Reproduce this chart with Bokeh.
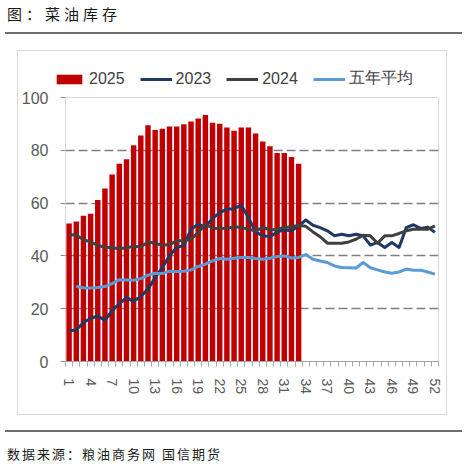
from bokeh.embed import file_html
from bokeh.layouts import column
from bokeh.models import Div, FixedTicker, Legend, LegendItem, Range1d
from bokeh.plotting import figure
from bokeh.resources import INLINE

TITLE = "图：菜油库存"
SOURCE = "数据来源：粮油商务网 国信期货"

WEEKS = list(range(1, 53))
TICK_WEEKS = [1, 4, 7, 10, 13, 16, 19, 22, 25, 28, 31, 34, 37, 40, 43, 46, 49, 52]
Y_TICKS = [0, 20, 40, 60, 80, 100]

STOCK_2025 = [52.3, 53.0, 55.2, 56.0, 61.2, 65.5, 70.8, 74.9, 76.6, 81.9, 85.6,
              89.5, 87.7, 88.2, 89.0, 89.0, 89.9, 90.9, 92.0, 93.4, 90.4, 90.1,
              88.6, 87.4, 88.6, 88.6, 86.4, 83.3, 81.5, 79.0, 79.0, 77.5, 74.9]
STOCK_2023 = [11.6, 11.9, 14.8, 16.3, 17.3, 15.5, 19.4, 21.8, 24.2, 22.8, 24.6,
              27.4, 31.8, 35.6, 40.0, 43.3, 43.9, 50.1, 52.0, 51.0, 54.2, 56.4,
              57.7, 57.9, 59.2, 54.5, 49.1, 47.6, 47.3, 49.1, 49.8, 49.5, 51.4,
              53.6, 51.6, 50.7, 49.5, 47.6, 48.2, 47.6, 48.2, 47.6, 44.1, 45.1,
              43.2, 45.1, 43.2, 50.7, 51.8, 50.4, 50.9, 48.9]
STOCK_2024 = [48.0, 47.9, 46.1, 45.3, 44.0, 43.3, 43.1, 42.7, 43.1, 43.6, 43.5,
              45.3, 44.8, 44.0, 44.3, 45.7, 45.7, 46.3, 48.9, 52.0, 50.5, 50.4,
              50.5, 51.0, 50.8, 50.1, 49.5, 50.8, 49.8, 50.1, 50.8, 51.0, 51.6,
              51.2, 49.1, 47.3, 44.8, 44.8, 44.8, 45.3, 46.3, 47.8, 47.6, 44.8,
              47.6, 47.6, 48.5, 49.5, 50.1, 50.1, 50.1, 51.4]
# five-year average starts at week 2
AVG_5Y = [28.4, 27.9, 27.8, 28.0, 28.4, 29.5, 31.0, 30.9, 30.8, 31.4, 32.7,
          33.4, 33.3, 34.2, 34.1, 34.2, 34.7, 36.0, 36.9, 38.1, 39.0, 38.7,
          39.1, 39.4, 39.4, 39.0, 38.7, 39.1, 39.8, 40.0, 39.2, 39.4, 40.5,
          38.7, 38.1, 37.5, 36.2, 35.6, 35.5, 35.4, 37.5, 35.5, 34.7, 33.9,
          33.4, 33.9, 35.0, 34.6, 34.6, 33.9, 33.1]

SERIES_NAMES = ["2025", "2023", "2024", "五年平均"]
C2025, C2023, C2024, CAVG = "#C00000", "#1F3864", "#404040", "#5B9BD5"

CJK = "font-family:'Noto Sans CJK SC';"
BOX = "#D9D9D9"

title_div = Div(
    width=467, height=41, margin=0,
    text=(
        '<div style="position:relative;width:467px;height:41px;">'
        f'<div style="position:absolute;left:7px;top:4px;{CJK}'
        'font-size:15px;letter-spacing:4px;color:#1a1a1a;line-height:20px;white-space:nowrap;">'
        f'{TITLE}</div>'
        '<div style="position:absolute;left:5px;top:32px;width:457px;'
        'border-top:2px solid #6e6e6e;"></div></div>'
    ),
)


def draw_series(fig):
    bars = fig.vbar(x=WEEKS[:len(STOCK_2025)], top=STOCK_2025, width=0.76,
                    fill_color=C2025, line_color=None)
    r23 = fig.line(WEEKS, STOCK_2023, line_width=3, color=C2023, line_join="round")
    r24 = fig.line(WEEKS, STOCK_2024, line_width=3, color=C2024, line_join="round")
    ravg = fig.line(WEEKS[1:], AVG_5Y, line_width=3, color=CAVG, line_join="round")
    return [bars, r23, r24, ravg]


# --- legend strip: its own small plot whose view range shows no data ---
leg = figure(
    width=429, height=40, x_range=Range1d(-20, -19), y_range=Range1d(-20, -19),
    x_axis_location=None, y_axis_location=None,
    output_backend="svg", toolbar_location=None,
    min_border_left=0, min_border_right=0, min_border_top=0, min_border_bottom=0,
    margin=(9, 0, 0, 18), frame_align=False,
)
leg.outline_line_color = None
leg.grid.visible = False
legend = Legend(
    items=[LegendItem(label=n, renderers=[r]) for n, r in zip(SERIES_NAMES, draw_series(leg))],
    orientation="horizontal",
    location=(35, 1),
    glyph_width=32,
    glyph_height=12,
    label_height=18,
    label_standoff=4,
    spacing=15,
    padding=0,
    margin=0,
    border_line_color=None,
    background_fill_alpha=0,
    label_text_font="Liberation Sans",
    label_text_font_size="16px",
    label_text_color="#404040",
)
leg.add_layout(legend, "center")

# --- main chart ---
p = figure(
    width=429,
    height=324,
    margin=(0, 0, 0, 18),
    x_range=Range1d(0.5, 52.5),
    y_range=Range1d(0, 100),
    output_backend="svg",
    toolbar_location=None,
    min_border_left=47,
    min_border_right=9,
    min_border_top=7,
    min_border_bottom=53,
)
p.outline_line_color = BOX
draw_series(p)

p.xgrid.visible = False
p.ygrid.ticker = FixedTicker(ticks=Y_TICKS[1:])
p.ygrid.grid_line_color = "#7F7F7F"
p.ygrid.grid_line_dash = "9 4"
p.ygrid.grid_line_width = 1.3

p.yaxis.ticker = FixedTicker(ticks=Y_TICKS)
p.yaxis.axis_line_color = BOX
p.yaxis.major_tick_line_color = "#8C8C8C"
p.yaxis.major_tick_out = 5
p.yaxis.major_tick_in = 0
p.yaxis.minor_tick_line_color = None
p.yaxis.major_label_text_font = "Liberation Sans"
p.yaxis.major_label_text_font_size = "16px"
p.yaxis.major_label_text_color = "#595959"
p.yaxis.major_label_standoff = 12

p.xaxis.ticker = FixedTicker(ticks=TICK_WEEKS,
                             minor_ticks=[w - 0.5 for w in WEEKS] + [52.5])
p.xaxis.axis_line_color = "#A6A6A6"
p.xaxis.major_tick_line_color = None
p.xaxis.major_tick_out = 0
p.xaxis.major_tick_in = 0
p.xaxis.minor_tick_line_color = "#A6A6A6"
p.xaxis.minor_tick_out = 5
p.xaxis.minor_tick_in = 0
p.xaxis.major_label_orientation = "vertical"
p.xaxis.major_label_text_font = "Liberation Sans"
p.xaxis.major_label_text_font_size = "14px"
p.xaxis.major_label_text_color = "#595959"
p.xaxis.major_label_standoff = 12

# footer: source line, its rule, and the thin frame around legend + chart
footer_div = Div(
    width=467, height=48, margin=0, styles={"overflow": "visible"},
    text=(
        '<div style="position:relative;width:467px;height:48px;overflow:visible;">'
        f'<div style="position:absolute;left:17px;top:-364px;width:430px;height:365px;'
        f'border:1px solid {BOX};pointer-events:none;"></div>'
        '<div style="position:absolute;left:5px;top:16px;width:457px;'
        'border-top:2px solid #6e6e6e;"></div>'
        f'<div style="position:absolute;left:7px;top:31px;{CJK}'
        'font-size:13px;letter-spacing:2px;color:#1a1a1a;line-height:18px;white-space:nowrap;">'
        f'{SOURCE}</div></div>'
    ),
)

layout = column(title_div, leg, p, footer_div, spacing=0, margin=0)
open("out.html", "w").write(file_html(layout, INLINE))
